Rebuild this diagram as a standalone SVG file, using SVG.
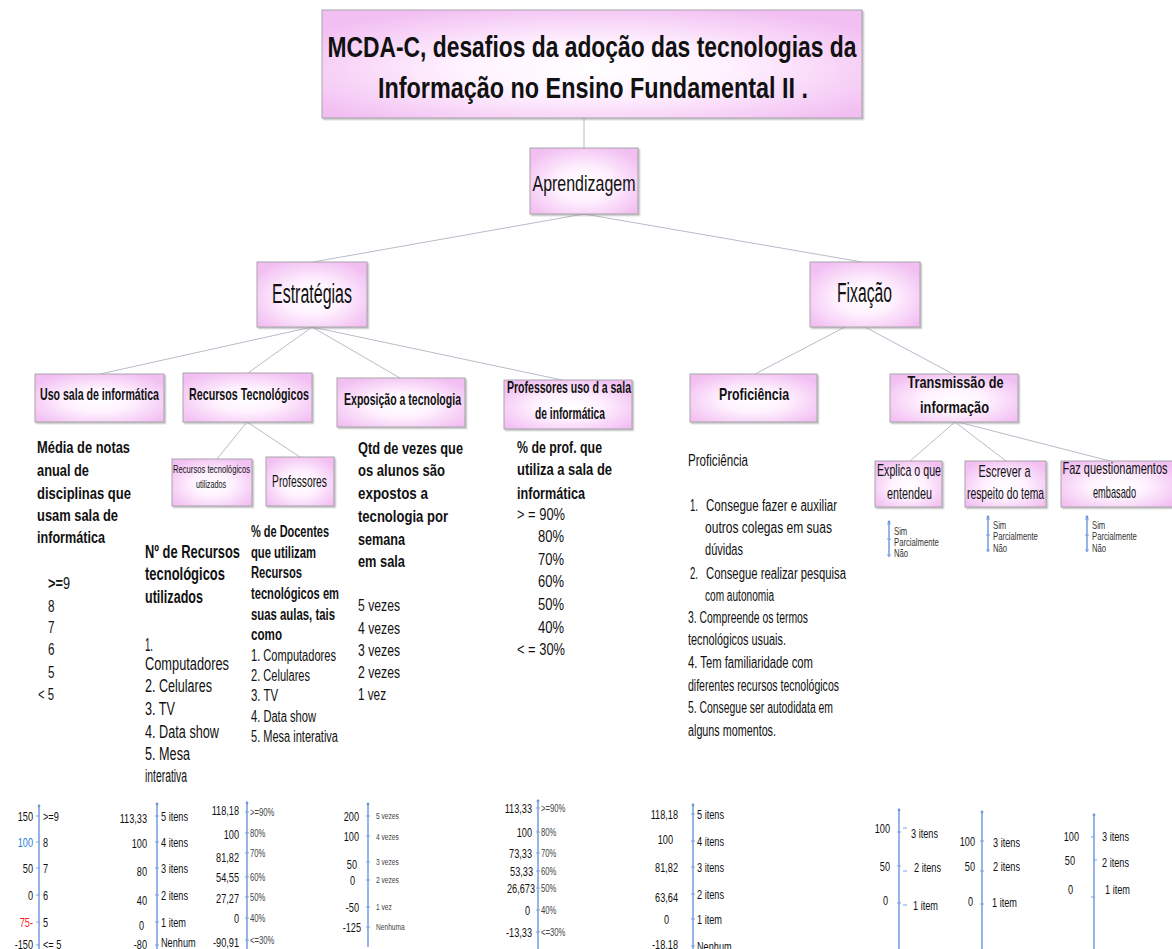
<svg xmlns="http://www.w3.org/2000/svg" width="1172" height="949" viewBox="0 0 1172 949">
  <defs>
    <radialGradient id="pink" cx="0.5" cy="0.55" r="0.62">
      <stop offset="0" stop-color="#ffffff"/>
      <stop offset="0.4" stop-color="#fff2ff"/>
      <stop offset="1" stop-color="#f2bff2"/>
    </radialGradient>
    <filter id="sh" x="-5%" y="-5%" width="115%" height="125%">
      <feDropShadow dx="1.5" dy="1.5" stdDeviation="0.6" flood-color="#8a8a8a" flood-opacity="0.5"/>
    </filter>
    <marker id="dot" markerWidth="4" markerHeight="4" refX="2" refY="2" markerUnits="userSpaceOnUse">
      <circle cx="2" cy="2" r="1.4" fill="#6f96dc"/>
    </marker>
    <style>
      .box { fill: url(#pink); stroke: #a9a3ab; stroke-width: 1; filter: url(#sh); }
      .t { font-family: "Liberation Sans Narrow", "Liberation Sans", Arial, sans-serif; fill: #111; }
      .b { font-weight: bold; }
      .c { text-anchor: middle; }
      .e { text-anchor: end; }
      .con line { stroke: #b8bcc8; stroke-width: 1; }
      .ax { stroke: #7ba1e2; stroke-width: 1.6; fill: none; marker-start: url(#dot); }
      .tk { stroke: #7ba1e2; stroke-width: 1.2; fill: none; }
      .q { font-size: 13.5px; }
      .sm { font-size: 11px; fill: #444; }
      .xs { font-size: 9.5px; fill: #444; }
      .ys { font-size: 11px; fill: #333; }
    </style>
  </defs>

  <rect width="1172" height="949" fill="#ffffff"/>

  <!-- connectors -->
  <g id="connectors" class="con">
    <line x1="584" y1="118" x2="584" y2="148"/>
    <line x1="584" y1="214" x2="313" y2="262"/>
    <line x1="584" y1="214" x2="862" y2="262"/>
    <line x1="312" y1="327" x2="100" y2="374"/>
    <line x1="312" y1="327" x2="248" y2="373"/>
    <line x1="312" y1="327" x2="400" y2="378"/>
    <line x1="312" y1="327" x2="562" y2="380"/>
    <line x1="845" y1="327" x2="755" y2="374"/>
    <line x1="865" y1="327" x2="953" y2="374"/>
    <line x1="247" y1="422" x2="217" y2="459"/>
    <line x1="247" y1="422" x2="300" y2="457"/>
    <line x1="955" y1="422" x2="910" y2="461"/>
    <line x1="955" y1="422" x2="1006" y2="461"/>
    <line x1="958" y1="422" x2="1110" y2="461"/>
  </g>

  <!-- tree nodes -->
  <g id="n-title">
    <rect class="box" x="322" y="10" width="540" height="108"/>
    <text class="t b c" x="592" y="57" font-size="29" textLength="529" lengthAdjust="spacingAndGlyphs">MCDA-C, desafios da adoção das tecnologias da</text>
    <text class="t b c" x="593" y="98" font-size="29" textLength="430" lengthAdjust="spacingAndGlyphs">Informação no Ensino Fundamental II .</text>
  </g>
  <g id="n-aprendizagem">
    <rect class="box" x="530" y="148" width="108" height="66"/>
    <text class="t c" x="584" y="191" font-size="22" textLength="103" lengthAdjust="spacingAndGlyphs">Aprendizagem</text>
  </g>
  <g id="n-estrategias">
    <rect class="box" x="257" y="262" width="110" height="65"/>
    <text class="t c" x="312" y="303" font-size="27" textLength="80" lengthAdjust="spacingAndGlyphs">Estratégias</text>
  </g>
  <g id="n-fixacao">
    <rect class="box" x="810" y="262" width="110" height="65"/>
    <text class="t c" x="864.5" y="302" font-size="27" textLength="55" lengthAdjust="spacingAndGlyphs">Fixação</text>
  </g>
  <g id="n-uso-sala">
    <rect class="box" x="35" y="374" width="129" height="48"/>
    <text class="t b c" x="99.5" y="400" font-size="17" textLength="119" lengthAdjust="spacingAndGlyphs">Uso sala de informática</text>
  </g>
  <g id="n-recursos">
    <rect class="box" x="183" y="373" width="129" height="49"/>
    <text class="t b c" x="249" y="400" font-size="17" textLength="120" lengthAdjust="spacingAndGlyphs">Recursos Tecnológicos</text>
  </g>
  <g id="n-exposicao">
    <rect class="box" x="337" y="378" width="128" height="49"/>
    <text class="t b c" x="402.5" y="405" font-size="16.5" textLength="117" lengthAdjust="spacingAndGlyphs">Exposição a tecnologia</text>
  </g>
  <g id="n-prof-sala">
    <rect class="box" x="504" y="380" width="128" height="49"/>
    <text class="t b c" x="569" y="393" font-size="16" textLength="124" lengthAdjust="spacingAndGlyphs">Professores uso d a sala</text>
    <text class="t b c" x="570" y="419" font-size="16" textLength="70" lengthAdjust="spacingAndGlyphs">de informática</text>
  </g>
  <g id="n-proficiencia">
    <rect class="box" x="690" y="374" width="127" height="48"/>
    <text class="t b c" x="754" y="400" font-size="17" textLength="70" lengthAdjust="spacingAndGlyphs">Proficiência</text>
  </g>
  <g id="n-transmissao">
    <rect class="box" x="890" y="374" width="128" height="48"/>
    <text class="t b c" x="955.5" y="388" font-size="17" textLength="96" lengthAdjust="spacingAndGlyphs">Transmissão de</text>
    <text class="t b c" x="954.5" y="413" font-size="17" textLength="69" lengthAdjust="spacingAndGlyphs">informação</text>
  </g>
  <g id="n-rec-utilizados">
    <rect class="box" x="172" y="459" width="80" height="47"/>
    <text class="t c" x="211.5" y="473" font-size="11" textLength="77" lengthAdjust="spacingAndGlyphs">Recursos tecnológicos</text>
    <text class="t c" x="211" y="488" font-size="11" textLength="30" lengthAdjust="spacingAndGlyphs">utilizados</text>
  </g>
  <g id="n-professores">
    <rect class="box" x="266" y="457" width="68" height="49"/>
    <text class="t c" x="299.5" y="487" font-size="17" textLength="55" lengthAdjust="spacingAndGlyphs">Professores</text>
  </g>
  <g id="n-explica">
    <rect class="box" x="875" y="461" width="67" height="46"/>
    <text class="t c" x="909" y="476" font-size="17" textLength="64" lengthAdjust="spacingAndGlyphs">Explica o que</text>
    <text class="t c" x="909.5" y="499" font-size="17" textLength="45" lengthAdjust="spacingAndGlyphs">entendeu</text>
  </g>
  <g id="n-escrever">
    <rect class="box" x="965" y="461" width="81" height="46"/>
    <text class="t c" x="1004.5" y="477" font-size="17" textLength="52" lengthAdjust="spacingAndGlyphs">Escrever a</text>
    <text class="t c" x="1005.5" y="499" font-size="17" textLength="77" lengthAdjust="spacingAndGlyphs">respeito do tema</text>
  </g>
  <g id="n-questiona">
    <rect class="box" x="1061" y="461" width="113" height="46"/>
    <text class="t c" x="1115" y="474" font-size="17" textLength="105" lengthAdjust="spacingAndGlyphs">Faz questionamentos</text>
    <text class="t c" x="1114.5" y="498" font-size="17" textLength="43" lengthAdjust="spacingAndGlyphs">embasado</text>
  </g>

  <!-- descriptor texts -->
  <g id="d-media" class="t" font-size="17">
    <text class="b" x="37" y="453" textLength="93" lengthAdjust="spacingAndGlyphs">Média de notas</text>
    <text class="b" x="37" y="476" textLength="52" lengthAdjust="spacingAndGlyphs">anual de</text>
    <text class="b" x="37" y="499" textLength="94" lengthAdjust="spacingAndGlyphs">disciplinas que</text>
    <text class="b" x="37" y="521" textLength="81" lengthAdjust="spacingAndGlyphs">usam sala de</text>
    <text class="b" x="37" y="543" textLength="68" lengthAdjust="spacingAndGlyphs">informática</text>
    <text x="48" y="589" textLength="22" lengthAdjust="spacingAndGlyphs"><tspan font-weight="bold">&gt;=</tspan>9</text>
    <text x="48" y="612" textLength="6.5" lengthAdjust="spacingAndGlyphs">8</text>
    <text x="48" y="633" textLength="6.5" lengthAdjust="spacingAndGlyphs">7</text>
    <text x="48" y="655" textLength="6.5" lengthAdjust="spacingAndGlyphs">6</text>
    <text x="48" y="678" textLength="6.5" lengthAdjust="spacingAndGlyphs">5</text>
    <text x="38" y="700" textLength="16" lengthAdjust="spacingAndGlyphs">&lt; 5</text>
  </g>
  <g id="d-num-recursos" class="t" font-size="17.5">
    <text class="b" x="145" y="558" textLength="95" lengthAdjust="spacingAndGlyphs">Nº de Recursos</text>
    <text class="b" x="145" y="580" textLength="80" lengthAdjust="spacingAndGlyphs">tecnológicos</text>
    <text class="b" x="145" y="603" textLength="58" lengthAdjust="spacingAndGlyphs">utilizados</text>
    <text x="145" y="651" textLength="8" lengthAdjust="spacingAndGlyphs">1.</text>
    <text x="145" y="670" textLength="84" lengthAdjust="spacingAndGlyphs">Computadores</text>
    <text x="145" y="692" textLength="67" lengthAdjust="spacingAndGlyphs">2. Celulares</text>
    <text x="145" y="715" textLength="30" lengthAdjust="spacingAndGlyphs">3. TV</text>
    <text x="145" y="738" textLength="74" lengthAdjust="spacingAndGlyphs">4. Data show</text>
    <text x="145" y="760" textLength="45" lengthAdjust="spacingAndGlyphs">5. Mesa</text>
    <text x="145" y="782" textLength="42" lengthAdjust="spacingAndGlyphs">interativa</text>
  </g>
  <g id="d-docentes" class="t" font-size="16">
    <text class="b" x="251" y="537" textLength="78" lengthAdjust="spacingAndGlyphs">% de Docentes</text>
    <text class="b" x="251" y="558" textLength="65" lengthAdjust="spacingAndGlyphs">que utilizam</text>
    <text class="b" x="251" y="578" textLength="51" lengthAdjust="spacingAndGlyphs">Recursos</text>
    <text class="b" x="251" y="599" textLength="88" lengthAdjust="spacingAndGlyphs">tecnológicos em</text>
    <text class="b" x="251" y="620" textLength="84" lengthAdjust="spacingAndGlyphs">suas aulas, tais</text>
    <text class="b" x="251" y="640" textLength="31" lengthAdjust="spacingAndGlyphs">como</text>
    <text x="251" y="661" textLength="85" lengthAdjust="spacingAndGlyphs">1. Computadores</text>
    <text x="251" y="681" textLength="59" lengthAdjust="spacingAndGlyphs">2. Celulares</text>
    <text x="251" y="701" textLength="27" lengthAdjust="spacingAndGlyphs">3. TV</text>
    <text x="251" y="722" textLength="65" lengthAdjust="spacingAndGlyphs">4. Data show</text>
    <text x="251" y="742" textLength="87" lengthAdjust="spacingAndGlyphs">5. Mesa interativa</text>
  </g>
  <g id="d-exposicao" class="t" font-size="17">
    <text class="b" x="358" y="454" textLength="105" lengthAdjust="spacingAndGlyphs">Qtd de vezes que</text>
    <text class="b" x="358" y="476" textLength="87" lengthAdjust="spacingAndGlyphs">os alunos são</text>
    <text class="b" x="358" y="499" textLength="70" lengthAdjust="spacingAndGlyphs">expostos a</text>
    <text class="b" x="358" y="522" textLength="90" lengthAdjust="spacingAndGlyphs">tecnologia por</text>
    <text class="b" x="358" y="545" textLength="47" lengthAdjust="spacingAndGlyphs">semana</text>
    <text class="b" x="358" y="567" textLength="47" lengthAdjust="spacingAndGlyphs">em sala</text>
    <text x="358" y="611" textLength="42" lengthAdjust="spacingAndGlyphs">5 vezes</text>
    <text x="358" y="634" textLength="42" lengthAdjust="spacingAndGlyphs">4 vezes</text>
    <text x="358" y="656" textLength="42" lengthAdjust="spacingAndGlyphs">3 vezes</text>
    <text x="358" y="678" textLength="42" lengthAdjust="spacingAndGlyphs">2 vezes</text>
    <text x="358" y="700" textLength="28" lengthAdjust="spacingAndGlyphs">1 vez</text>
  </g>
  <g id="d-prof-sala" class="t" font-size="17">
    <text class="b" x="517" y="453" textLength="85" lengthAdjust="spacingAndGlyphs">% de prof. que</text>
    <text class="b" x="517" y="475" textLength="95" lengthAdjust="spacingAndGlyphs">utiliza a sala de</text>
    <text class="b" x="517" y="499" textLength="68" lengthAdjust="spacingAndGlyphs">informática</text>
    <text x="517" y="520" textLength="48" lengthAdjust="spacingAndGlyphs">&gt; = 90%</text>
    <text x="538" y="542" textLength="26" lengthAdjust="spacingAndGlyphs">80%</text>
    <text x="538" y="565" textLength="26" lengthAdjust="spacingAndGlyphs">70%</text>
    <text x="538" y="587" textLength="26" lengthAdjust="spacingAndGlyphs">60%</text>
    <text x="538" y="610" textLength="26" lengthAdjust="spacingAndGlyphs">50%</text>
    <text x="538" y="633" textLength="26" lengthAdjust="spacingAndGlyphs">40%</text>
    <text x="517" y="655" textLength="48" lengthAdjust="spacingAndGlyphs">&lt; = 30%</text>
  </g>
  <g id="d-proficiencia" class="t" font-size="16">
    <text x="688" y="466" textLength="60" lengthAdjust="spacingAndGlyphs">Proficiência</text>
    <text x="690" y="511" textLength="8" lengthAdjust="spacingAndGlyphs">1.</text>
    <text x="706" y="511" textLength="131" lengthAdjust="spacingAndGlyphs">Consegue fazer e auxiliar</text>
    <text x="705" y="533" textLength="127" lengthAdjust="spacingAndGlyphs">outros colegas em suas</text>
    <text x="705" y="555" textLength="38" lengthAdjust="spacingAndGlyphs">dúvidas</text>
    <text x="690" y="579" textLength="8" lengthAdjust="spacingAndGlyphs">2.</text>
    <text x="706" y="579" textLength="140" lengthAdjust="spacingAndGlyphs">Consegue realizar pesquisa</text>
    <text x="705" y="601" textLength="69" lengthAdjust="spacingAndGlyphs">com autonomia</text>
    <text x="688" y="623" textLength="120" lengthAdjust="spacingAndGlyphs">3. Compreende os termos</text>
    <text x="688" y="645" textLength="98" lengthAdjust="spacingAndGlyphs">tecnológicos usuais.</text>
    <text x="688" y="668" textLength="125" lengthAdjust="spacingAndGlyphs">4. Tem familiaridade com</text>
    <text x="688" y="691" textLength="151" lengthAdjust="spacingAndGlyphs">diferentes recursos tecnológicos</text>
    <text x="688" y="713" textLength="145" lengthAdjust="spacingAndGlyphs">5. Consegue ser autodidata em</text>
    <text x="688" y="736" textLength="88" lengthAdjust="spacingAndGlyphs">alguns momentos.</text>
  </g>

  <!-- small yes/partial/no scales -->
  <g id="s-explica" class="t ys">
    <line class="ax" x1="889" y1="522" x2="889" y2="557" stroke-width="1.2"/>
    <path class="tk" d="M887 524h4M887 539h4M887 555h4"/>
    <text transform="translate(894 535) scale(.7 1)">Sim</text>
    <text transform="translate(894 546) scale(.7 1)">Parcialmente</text>
    <text transform="translate(894 557) scale(.7 1)">Não</text>
  </g>
  <g id="s-escrever" class="t ys">
    <line class="ax" x1="988" y1="517" x2="988" y2="552" stroke-width="1.2"/>
    <path class="tk" d="M986 519h4M986 535h4M986 550h4"/>
    <text transform="translate(993 529) scale(.7 1)">Sim</text>
    <text transform="translate(993 540) scale(.7 1)">Parcialmente</text>
    <text transform="translate(993 552) scale(.7 1)">Não</text>
  </g>
  <g id="s-questiona" class="t ys">
    <line class="ax" x1="1087" y1="517" x2="1087" y2="552" stroke-width="1.2"/>
    <path class="tk" d="M1085 519h4M1085 535h4M1085 550h4"/>
    <text transform="translate(1092 529) scale(.7 1)">Sim</text>
    <text transform="translate(1092 540) scale(.7 1)">Parcialmente</text>
    <text transform="translate(1092 552) scale(.7 1)">Não</text>
  </g>

  <!-- value scales along the bottom -->
  <g id="v-media" class="t q">
    <line class="ax" x1="39" y1="806" x2="39" y2="949"/>
    <path class="tk" d="M36 816h4M36 842h4M36 868h4M36 895h4M36 922h4M36 945h4"/>
    <text class="e" transform="translate(33 821) scale(.68 1)">150</text>
    <text class="e" transform="translate(33 847) scale(.68 1)" fill="#2a7fd4">100</text>
    <text class="e" transform="translate(33 873) scale(.68 1)">50</text>
    <text class="e" transform="translate(33 900) scale(.68 1)">0</text>
    <text class="e" transform="translate(33 927) scale(.68 1)" fill="#ff1a1a">75-</text>
    <text class="e" transform="translate(33 949) scale(.68 1)">-150</text>
    <text transform="translate(43 821) scale(.68 1)">&gt;=9</text>
    <text transform="translate(43 847) scale(.68 1)">8</text>
    <text transform="translate(43 873) scale(.68 1)">7</text>
    <text transform="translate(43 900) scale(.68 1)">6</text>
    <text transform="translate(43 927) scale(.68 1)">5</text>
    <text transform="translate(43 949) scale(.68 1)">&lt;= 5</text>
  </g>
  <g id="v-num-recursos" class="t q">
    <line class="ax" x1="157" y1="804" x2="157" y2="949"/>
    <path class="tk" d="M155 816h4M155 842h4M155 868h4M155 895h4M155 922h4M155 945h4"/>
    <text class="e" transform="translate(147 823) scale(.68 1)">113,33</text>
    <text class="e" transform="translate(147 848) scale(.68 1)">100</text>
    <text class="e" transform="translate(147 876) scale(.68 1)">80</text>
    <text class="e" transform="translate(147 905) scale(.68 1)">40</text>
    <text class="e" transform="translate(144 930) scale(.68 1)">0</text>
    <text class="e" transform="translate(147 949) scale(.68 1)">-80</text>
    <text transform="translate(161 821) scale(.68 1)">5 itens</text>
    <text transform="translate(161 847) scale(.68 1)">4 itens</text>
    <text transform="translate(161 873) scale(.68 1)">3 itens</text>
    <text transform="translate(161 900) scale(.68 1)">2 itens</text>
    <text transform="translate(161 927) scale(.68 1)">1 item</text>
    <text transform="translate(161 947) scale(.68 1)">Nenhum</text>
  </g>
  <g id="v-docentes" class="t q">
    <line class="ax" x1="247" y1="803" x2="247" y2="949"/>
    <path class="tk" d="M245 812h4M245 833h4M245 853h4M245 877h4M245 897h4M245 918h4M245 940h4"/>
    <text class="e" transform="translate(239 815) scale(.68 1)">118,18</text>
    <text class="e" transform="translate(239 839) scale(.68 1)">100</text>
    <text class="e" transform="translate(239 862) scale(.68 1)">81,82</text>
    <text class="e" transform="translate(239 882) scale(.68 1)">54,55</text>
    <text class="e" transform="translate(239 903) scale(.68 1)">27,27</text>
    <text class="e" transform="translate(239 923) scale(.68 1)">0</text>
    <text class="e" transform="translate(239 947) scale(.68 1)">-90,91</text>
    <text class="sm" transform="translate(250 816) scale(.7 1)">&gt;=90%</text>
    <text class="sm" transform="translate(250 837) scale(.7 1)">80%</text>
    <text class="sm" transform="translate(250 857) scale(.7 1)">70%</text>
    <text class="sm" transform="translate(250 881) scale(.7 1)">60%</text>
    <text class="sm" transform="translate(250 901) scale(.7 1)">50%</text>
    <text class="sm" transform="translate(250 922) scale(.7 1)">40%</text>
    <text class="sm" transform="translate(250 944) scale(.7 1)">&lt;=30%</text>
  </g>
  <g id="v-exposicao" class="t q">
    <line class="ax" x1="368" y1="804" x2="368" y2="947"/>
    <path class="tk" d="M366 816h4M366 836h4M366 862h4M366 880h4M366 907h4M366 927h4"/>
    <text class="e" transform="translate(359 821) scale(.68 1)">200</text>
    <text class="e" transform="translate(359 841) scale(.68 1)">100</text>
    <text class="e" transform="translate(357 869) scale(.68 1)">50</text>
    <text class="e" transform="translate(355 885) scale(.68 1)">0</text>
    <text class="e" transform="translate(359 912) scale(.68 1)">-50</text>
    <text class="e" transform="translate(361 932) scale(.68 1)">-125</text>
    <text class="xs" transform="translate(376 819) scale(.7 1)">5 vezes</text>
    <text class="xs" transform="translate(376 840) scale(.7 1)">4 vezes</text>
    <text class="xs" transform="translate(376 865) scale(.7 1)">3 vezes</text>
    <text class="xs" transform="translate(376 883) scale(.7 1)">2 vezes</text>
    <text class="xs" transform="translate(376 910) scale(.7 1)">1 vez</text>
    <text class="xs" transform="translate(376 930) scale(.7 1)">Nenhuma</text>
  </g>
  <g id="v-prof-sala" class="t q">
    <line class="ax" x1="538" y1="801" x2="538" y2="949"/>
    <path class="tk" d="M536 808h4M536 832h4M536 853h4M536 871h4M536 888h4M536 910h4M536 932h4"/>
    <text class="e" transform="translate(532 813) scale(.68 1)">113,33</text>
    <text class="e" transform="translate(532 837) scale(.68 1)">100</text>
    <text class="e" transform="translate(532 858) scale(.68 1)">73,33</text>
    <text class="e" transform="translate(533 876) scale(.68 1)">53,33</text>
    <text class="e" transform="translate(535 893) scale(.68 1)">26,673</text>
    <text class="e" transform="translate(530 915) scale(.68 1)">0</text>
    <text class="e" transform="translate(532 937) scale(.68 1)">-13,33</text>
    <text class="sm" transform="translate(541 812) scale(.7 1)">&gt;=90%</text>
    <text class="sm" transform="translate(541 836) scale(.7 1)">80%</text>
    <text class="sm" transform="translate(541 857) scale(.7 1)">70%</text>
    <text class="sm" transform="translate(541 875) scale(.7 1)">60%</text>
    <text class="sm" transform="translate(541 892) scale(.7 1)">50%</text>
    <text class="sm" transform="translate(541 914) scale(.7 1)">40%</text>
    <text class="sm" transform="translate(541 936) scale(.7 1)">&lt;=30%</text>
  </g>
  <g id="v-proficiencia" class="t q">
    <line class="ax" x1="693" y1="805" x2="693" y2="949"/>
    <path class="tk" d="M691 814h4M691 841h4M691 867h4M691 894h4M691 919h4M691 946h4"/>
    <text class="e" transform="translate(678 819) scale(.68 1)">118,18</text>
    <text class="e" transform="translate(673 844) scale(.68 1)">100</text>
    <text class="e" transform="translate(678 872) scale(.68 1)">81,82</text>
    <text class="e" transform="translate(678 902) scale(.68 1)">63,64</text>
    <text class="e" transform="translate(669 924) scale(.68 1)">0</text>
    <text class="e" transform="translate(678 949) scale(.68 1)">-18,18</text>
    <text transform="translate(697 819) scale(.68 1)">5 itens</text>
    <text transform="translate(697 846) scale(.68 1)">4 itens</text>
    <text transform="translate(697 872) scale(.68 1)">3 itens</text>
    <text transform="translate(697 899) scale(.68 1)">2 itens</text>
    <text transform="translate(697 924) scale(.68 1)">1 item</text>
    <text transform="translate(697 951) scale(.68 1)">Nenhum</text>
  </g>
  <g id="v-explica" class="t q">
    <line class="ax" x1="899" y1="810" x2="899" y2="949"/>
    <path class="tk" d="M897 832h4M903 828h4M897 866h4M903 871h4M897 903h4M903 905h4"/>
    <text class="e" transform="translate(890 833) scale(.68 1)">100</text>
    <text class="e" transform="translate(890 871) scale(.68 1)">50</text>
    <text class="e" transform="translate(888 905) scale(.68 1)">0</text>
    <text transform="translate(911 838) scale(.68 1)">3 itens</text>
    <text transform="translate(914 872) scale(.68 1)">2 itens</text>
    <text transform="translate(913 910) scale(.68 1)">1 item</text>
  </g>
  <g id="v-escrever" class="t q">
    <line class="ax" x1="982" y1="812" x2="982" y2="949"/>
    <path class="tk" d="M980 841h4M980 871h4M980 904h4"/>
    <text class="e" transform="translate(975 846) scale(.68 1)">100</text>
    <text class="e" transform="translate(975 871) scale(.68 1)">50</text>
    <text class="e" transform="translate(973 906) scale(.68 1)">0</text>
    <text transform="translate(993 847) scale(.68 1)">3 itens</text>
    <text transform="translate(993 871) scale(.68 1)">2 itens</text>
    <text transform="translate(992 907) scale(.68 1)">1 item</text>
  </g>
  <g id="v-questiona" class="t q">
    <line class="ax" x1="1094" y1="815" x2="1094" y2="949"/>
    <path class="tk" d="M1091 837h4M1093 860h4M1091 897h4"/>
    <text class="e" transform="translate(1079 841) scale(.68 1)">100</text>
    <text class="e" transform="translate(1075 865) scale(.68 1)">50</text>
    <text class="e" transform="translate(1073 894) scale(.68 1)">0</text>
    <text transform="translate(1102 841) scale(.68 1)">3 itens</text>
    <text transform="translate(1102 867) scale(.68 1)">2 itens</text>
    <text transform="translate(1105 894) scale(.68 1)">1 item</text>
  </g>
</svg>
